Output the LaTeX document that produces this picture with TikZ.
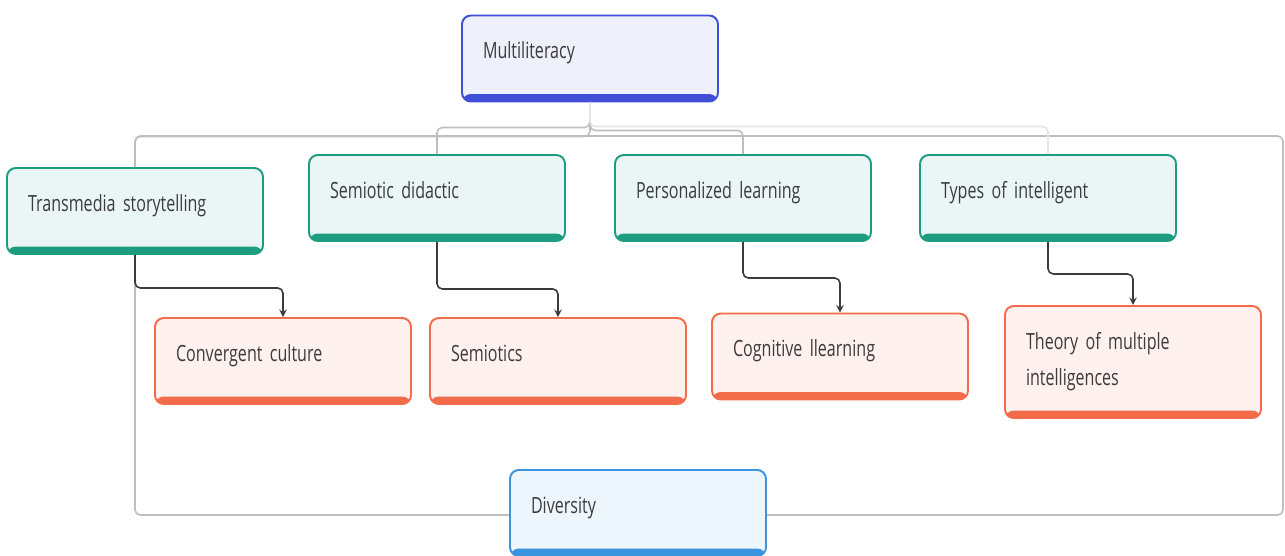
\documentclass[tikz,border=0pt]{standalone}
\usepackage{fontspec}
\setmainfont{Open Sans}[FakeStretch=0.72, WordSpace=0.75]
\definecolor{rootblue}{RGB}{63, 79, 216}
\definecolor{rootfill}{RGB}{238, 240, 251}
\definecolor{topicteal}{RGB}{30, 156, 128}
\definecolor{topicfill}{RGB}{234, 246, 245}
\definecolor{subcoral}{RGB}{242, 107, 74}
\definecolor{subfill}{RGB}{254, 241, 238}
\definecolor{baseblue}{RGB}{59, 149, 222}
\definecolor{basefill}{RGB}{238, 246, 253}
\definecolor{textgrey}{RGB}{60, 60, 60}
\definecolor{linegrey}{RGB}{190, 190, 190}
\definecolor{arrowgrey}{RGB}{60, 60, 60}

\tikzset{
    card/.style 2 args={draw=#1, fill=#2, line width=1.1pt, rounded corners=5pt,
        minimum width=5.12cm, minimum height=1.72cm, text width=4.28cm,
        inner xsep=0.42cm, align=left, text=textgrey, text depth=0.32cm,
        font=\fontsize{12.7}{20.4}\selectfont,
        path picture={\fill[#1] ([yshift=0.15cm]path picture bounding box.south west)
            rectangle (path picture bounding box.south east);}},
    rootcard/.style={card={rootblue}{rootfill}},
    topiccard/.style={card={topicteal}{topicfill}},
    subcard/.style={card={subcoral}{subfill}},
    basecard/.style={card={baseblue}{basefill}},
    branch/.style={draw=linegrey, line width=0.9pt, rounded corners=3pt},
    link/.style={->, >=stealth, draw=arrowgrey, line width=0.9pt, rounded corners=3pt}
}

\begin{document}
\begin{tikzpicture}
    \useasboundingbox (0, 0) rectangle (25.7, 11.1);

    \pgfmathsetmacro{\firstCol}{2.70}
    \pgfmathsetmacro{\secondCol}{8.74}
    \pgfmathsetmacro{\thirdCol}{14.86}
    \pgfmathsetmacro{\fourthCol}{20.96}

    % grey frame around the topics
    \draw[branch] (2.70, 8.38) rectangle (25.66, 0.80);

    % root
    \node[rootcard] (multi) at (11.80, 9.93) {Multiliteracy};

    % topics
    \node[topiccard] (trans) at (\firstCol, 6.88) {Transmedia storytelling};
    \node[topiccard] (semdid) at (\secondCol, 7.14) {Semiotic didactic};
    \node[topiccard] (perso) at (\thirdCol, 7.14) {Personalized learning};
    \node[topiccard] (types) at (\fourthCol, 7.14) {Types of intelligent};

    % sub topics, shifted right of their parents
    \node[subcard] (conv) at (5.66, 3.88) {Convergent culture};
    \node[subcard] (semio) at (11.16, 3.88) {Semiotics};
    \node[subcard] (cogn) at (16.80, 3.97) {Cognitive llearning};
    \node[subcard, minimum height=2.24cm, text depth={}] (theory) at (22.66, 3.86) {Theory of multiple\\intelligences};

    \node[basecard] (divers) at (12.76, 0.84) {Diversity};

    % root to topics
    \foreach \t/\d in {trans/0.68, semdid/0.50, perso/0.56}
        \draw[branch] (multi.south) -- ++(0, -\d) -| (\t.north);
    \draw[branch, draw=linegrey!40] (multi.south) -- ++(0, -0.48) -| (types.north);

    % topics to sub topics
    \foreach \a/\b/\d in {trans/conv/0.66, semdid/semio/0.94, perso/cogn/0.72, types/theory/0.64}
        \draw[link] (\a.south) -- ++(0, -\d) -| (\b.north);

\end{tikzpicture}
\end{document}
